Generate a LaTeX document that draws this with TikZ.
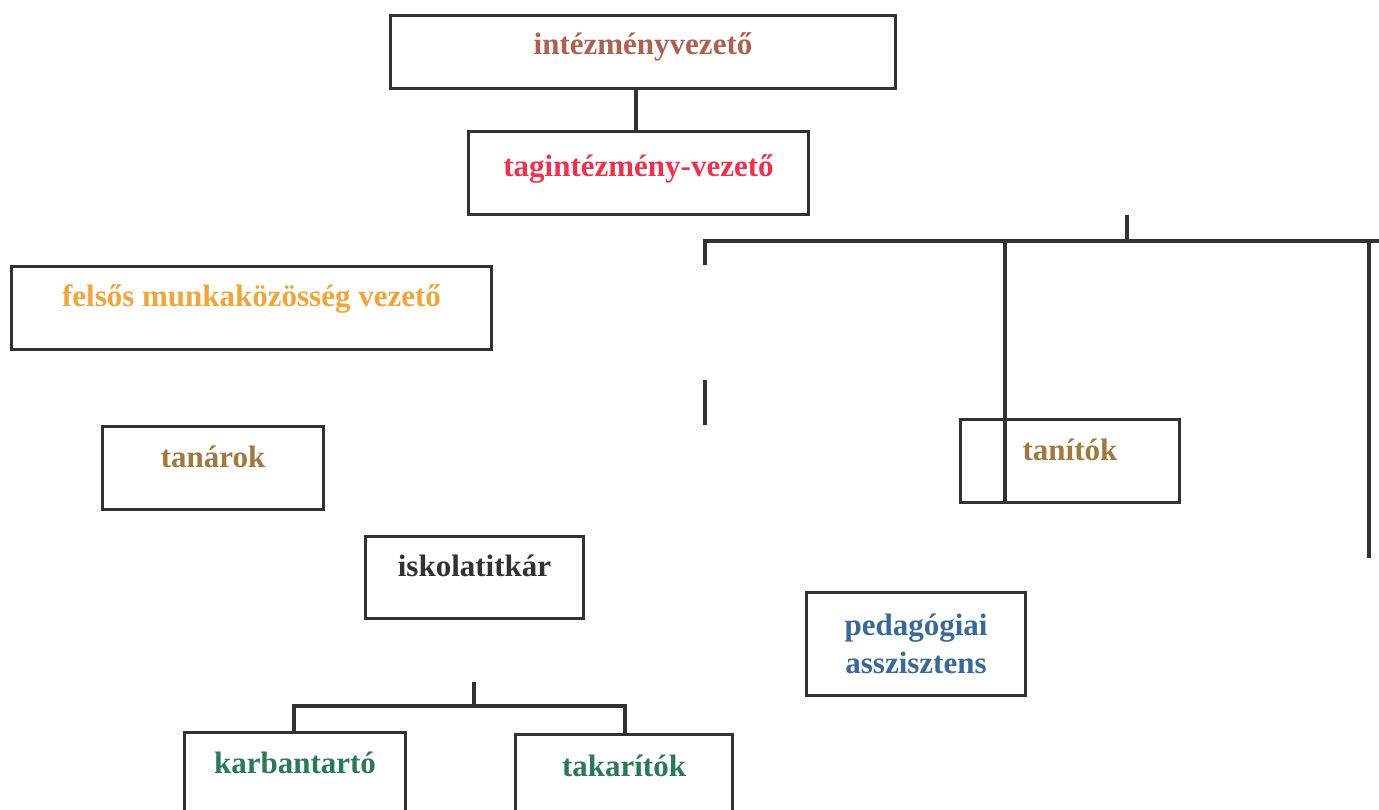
\documentclass[tikz,border=0pt]{standalone}
\usepackage{fontspec}
\setmainfont{Liberation Serif}
\definecolor{cIv}{RGB}{170,98,82}
\definecolor{cTv}{RGB}{232,52,80}
\definecolor{cFe}{RGB}{240,165,60}
\definecolor{cTa}{RGB}{160,120,64}
\definecolor{cIs}{RGB}{50,50,50}
\definecolor{cKa}{RGB}{46,120,90}
\definecolor{cPe}{RGB}{58,105,150}
\definecolor{cLine}{RGB}{50,50,50}
\begin{document}
\begin{tikzpicture}[x=1pt,y=-1pt,
  box/.style={draw=cLine, line width=3pt, rectangle, inner sep=0pt, anchor=north west,
    font=\fontsize{31}{38}\selectfont\bfseries},
  conn/.style={draw=cLine, line width=4.5pt}]
\useasboundingbox (0,0) rectangle (1379,810);
\clip (0,0) rectangle (1379,810);
\fill[white] (0,0) rectangle (1379,810);

\node[box, text=cIv, minimum width=505pt, text height=39pt, text depth=34pt] (iv) at (389,14) {intézményvezető};
\node[box, text=cTv, minimum width=340pt, text height=45pt, text depth=38pt] (tv) at (467,130) {tagintézmény-vezető};
\node[box, text=cFe, minimum width=480pt, text height=40pt, text depth=43pt] (fe) at (10,265) {felsős munkaközösség vezető};
\node[box, text=cTa, minimum width=221pt, text height=41pt, text depth=42pt] (ta) at (101,425) {tanárok};
\node[box, text=cIs, minimum width=218pt, text height=40pt, text depth=42pt] (is) at (364,535) {iskolatitkár};
\node[box, text=cKa, minimum width=221pt, text height=41pt, text depth=68pt] (ka) at (183,731) {karbantartó};
\node[box, text=cKa, minimum width=217pt, text height=42pt, text depth=65pt] (tk) at (514,733) {takarítók};
\node[box, text=cTa, minimum width=219pt, text height=41pt, text depth=42pt] (ti) at (959,418) {tanítók};
\node[box, text=cPe, minimum width=219pt, minimum height=103pt, align=center] (pe) at (805,591) {pedagógiai\\asszisztens};

% top connector
\draw[conn] (tv.north -| 636,0) -- (iv.south -| 636,0);

% right bracket
\coordinate (rs) at (1127,215);
\coordinate (rh) at (1127,241);
\coordinate (rl) at (705,241);
\coordinate (rlb) at (705,265);
\coordinate (rr) at (1369,241);
\coordinate (rrb) at (1369,558);
\coordinate (rm) at (1005,241);
\coordinate (sa) at (705,380);
\coordinate (sb) at (705,425);
\coordinate (rend) at (1385,241);
\draw[conn] (rs) -- (rh);
\draw[conn] (rlb) -- (rl) -- (rend);
\draw[conn] (rr) -- (rrb);
\draw[conn, line width=4pt] (rm) -- (rm |- ti.south);
\draw[conn] (sa) -- (sb);

% bottom bracket
\coordinate (bs) at (474,682);
\coordinate (bh) at (474,706);
\draw[conn] (bs) -- (bh);
\draw[conn] (ka.north -| 294,0) -- (294,706) -- (625,706) -- (tk.north -| 625,0);
\end{tikzpicture}
\end{document}
